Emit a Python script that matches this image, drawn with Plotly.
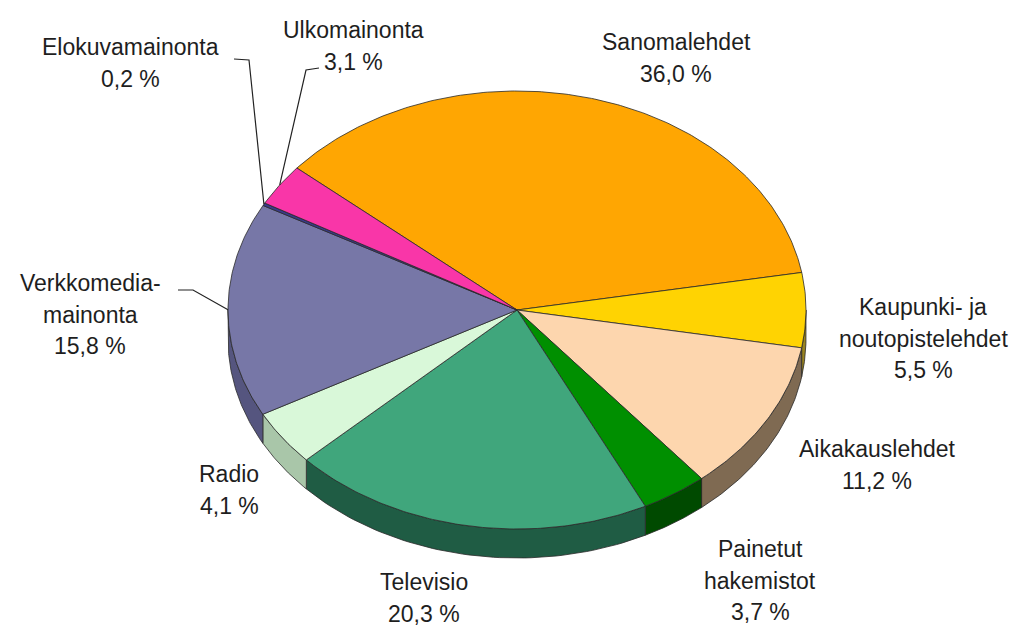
import numpy as np
import plotly.graph_objects as go

# ---------------- data ----------------
categories = ["Sanomalehdet", "Kaupunki- ja noutopistelehdet", "Aikakauslehdet",
              "Painetut hakemistot", "Televisio", "Radio",
              "Verkkomedia-mainonta", "Elokuvamainonta", "Ulkomainonta"]
values = [36.0, 5.5, 11.2, 3.7, 20.3, 4.1, 15.8, 0.2, 3.1]
label_lines = [["Sanomalehdet"], ["Kaupunki- ja", "noutopistelehdet"], ["Aikakauslehdet"],
               ["Painetut", "hakemistot"], ["Televisio"], ["Radio"],
               ["Verkkomedia-", "mainonta"], ["Elokuvamainonta"], ["Ulkomainonta"]]

# ---------------- style ----------------
top_colors = ["#FFA602", "#FFD302", "#FDD6AE", "#008F00", "#40A67C",
              "#D9F8D9", "#7777A7", "#3A3A8A", "#F936A8"]
side_colors = ["#A86E00", "#9A8420", "#7F6A52", "#004A00", "#1F5C44",
               "#A9C6A9", "#55557F", "#2A2A66", "#A02070"]
# label anchor (x centre, first-line y) in page pixels
label_pos = [(676, 42), (923, 307), (877, 449), (760, 549), (424, 582),
             (229, 474), (90, 283), (130, 47), (353, 30)]
line_gap = 31.5
CX, CY, RX, RY, DEPTH = 517, 310, 289, 219, 29
START = 139.6  # degrees, slices run clockwise
W, H = 1023, 626
FONT = dict(family="Liberation Sans, Arial, sans-serif", size=23, color="#1e1e1e")

total = sum(values)


def ex(t):
    return CX + RX * np.cos(np.radians(t))


def ey(t, d=0.0):
    return CY - RY * np.sin(np.radians(t)) + d


fig = go.Figure()

# angles
bounds = []
a = START
for v in values:
    b = a - v / total * 360.0
    bounds.append((a, b))
    a = b

# sides (front half only: angles between -180 and 0)
for (a, b), col in zip(bounds, side_colors):
    lo, hi = max(b, -180.0), min(a, 0.0)
    if hi <= lo:
        continue
    t = np.linspace(hi, lo, 60)
    xs = np.concatenate([ex(t), ex(t[::-1]), [ex(t[0])]])
    ys = np.concatenate([ey(t), ey(t[::-1], DEPTH), [ey(t[0])]])
    fig.add_trace(go.Scatter(x=xs, y=ys, mode="lines", fill="toself", fillcolor=col,
                             line=dict(color="#2a2a2a", width=0.8), hoverinfo="skip",
                             showlegend=False))

# top faces
for (a, b), col, name in zip(bounds, top_colors, categories):
    n = max(4, int(abs(a - b) * 1.5))
    t = np.linspace(a, b, n)
    xs = np.concatenate([[CX], ex(t), [CX]])
    ys = np.concatenate([[CY], ey(t), [CY]])
    fig.add_trace(go.Scatter(x=xs, y=ys, mode="lines", fill="toself", fillcolor=col,
                             line=dict(color="#2a2a2a", width=0.8), name=name,
                             hoverinfo="name", showlegend=False))

# labels
annotations = []
for lines, v, (lx, ly) in zip(label_lines, values, label_pos):
    all_lines = lines + [f"{v:.1f}".replace(".", ",") + " %"]
    for i, s in enumerate(all_lines):
        annotations.append(dict(x=lx, y=ly + i * line_gap, text=s, showarrow=False,
                                xanchor="center", yanchor="middle", font=FONT))

# leader lines for labels placed away from their slice
leader_starts = {7: [(234, 59), (249, 60)], 8: [(319, 68), (306, 70)], 6: [(178, 290), (193, 290)]}
for idx, pts in leader_starts.items():
    a, b = bounds[idx]
    m = (a + b) / 2
    xs = [p[0] for p in pts] + [ex(m)]
    ys = [p[1] for p in pts] + [ey(m)]
    fig.add_trace(go.Scatter(x=xs, y=ys, mode="lines", line=dict(color="#222222", width=1.2),
                             hoverinfo="skip", showlegend=False))

fig.update_layout(
    width=W, height=H, autosize=False,
    margin=dict(l=0, r=0, t=0, b=0),
    paper_bgcolor="white", plot_bgcolor="white",
    xaxis=dict(range=[0, W], visible=False, fixedrange=True),
    yaxis=dict(range=[H, 0], visible=False, fixedrange=True),
    annotations=annotations,
)

fig.write_html("out.html")
